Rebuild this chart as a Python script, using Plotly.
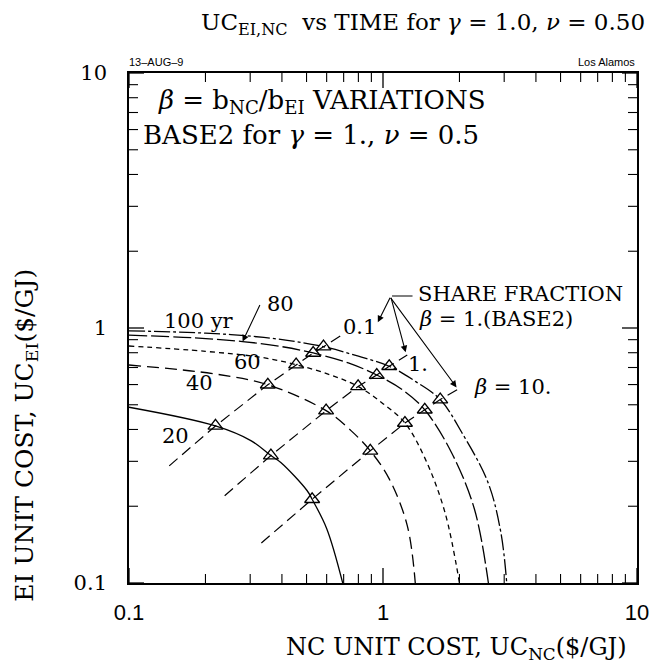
import math
import plotly.graph_objects as go

# ---- time contours: EI unit cost vs NC unit cost ($/GJ) ----
t20_nc = [0.1, 0.219, 0.303, 0.362, 0.396, 0.503, 0.526, 0.601, 0.694]
t20_ei = [0.489, 0.413, 0.361, 0.316, 0.297, 0.230, 0.213, 0.163, 0.1]

t40_nc = [0.1, 0.219, 0.352, 0.597, 0.75, 0.891, 1.058, 1.246, 1.34]
t40_ei = [0.716, 0.66, 0.599, 0.474, 0.395, 0.330, 0.256, 0.168, 0.1]

t60_nc = [0.1, 0.2, 0.332, 0.455, 0.62, 0.798, 1.0, 1.22, 1.468, 1.754, 2.0]
t60_ei = [0.85, 0.81, 0.767, 0.718, 0.655, 0.59, 0.505, 0.424, 0.306, 0.189, 0.1]

t80_nc = [0.1, 0.18, 0.28, 0.4, 0.531, 0.73, 0.945, 1.2, 1.46, 1.86, 2.29, 2.6]
t80_ei = [0.937, 0.915, 0.885, 0.845, 0.798, 0.73, 0.654, 0.57, 0.478, 0.325, 0.195, 0.1]

t100_nc = [0.1, 0.2, 0.286, 0.42, 0.583, 0.8, 1.058, 1.35, 1.68, 2.04, 2.59, 2.91, 3.07]
t100_ei = [0.975, 0.955, 0.933, 0.895, 0.845, 0.775, 0.708, 0.615, 0.524, 0.39, 0.248, 0.158, 0.1]

# ---- share-fraction lines (beta = 0.1, 1, 10); inner points are the 20..100 yr crossings ----
b01_nc = [0.144, 0.219, 0.352, 0.455, 0.531, 0.583, 0.698]
b01_ei = [0.288, 0.413, 0.599, 0.718, 0.798, 0.845, 0.947]

b1_nc = [0.238, 0.362, 0.597, 0.798, 0.945, 1.058, 1.246]
b1_ei = [0.220, 0.316, 0.474, 0.59, 0.654, 0.708, 0.784]

b10_nc = [0.332, 0.526, 0.891, 1.22, 1.46, 1.68, 1.98]
b10_ei = [0.1435, 0.213, 0.330, 0.424, 0.478, 0.524, 0.576]

x_ticks = [0.1, 1, 10]
x_ticktext = ["0.1", "1", "10"]
y_ticks = [0.1, 1, 10]
y_ticktext = ["0.1", "1", "10"]

SERIF = "DejaVu Serif, serif"
SANS = "Liberation Sans, Arial, sans-serif"
INK = "black"

W, H = 661, 670
L, R, T, B = 129, 16, 73, 87
LOG_MIN, LOG_MAX = -1, 1


def paper_x(px):
    return (px - L) / (W - L - R)


def paper_y(py):
    return (H - B - py) / (H - T - B)


fig = go.Figure()

curves = [
    (t20_nc, t20_ei, "solid"),
    (t40_nc, t40_ei, "12px,6px"),
    (t60_nc, t60_ei, "5px,4px"),
    (t80_nc, t80_ei, "18px,4px"),
    (t100_nc, t100_ei, "16px,3px,3px,3px"),
]
for xs, ys, dash in curves:
    fig.add_trace(go.Scatter(
        x=xs, y=ys, mode="lines", line_shape="spline",
        line=dict(color=INK, width=1.3, dash=dash),
        hoverinfo="skip", showlegend=False))

for xs, ys in [(b01_nc, b01_ei), (b1_nc, b1_ei), (b10_nc, b10_ei)]:
    fig.add_trace(go.Scatter(
        x=xs, y=ys, mode="lines",
        line=dict(color=INK, width=1.2, dash="11px,6px"),
        hoverinfo="skip", showlegend=False))
    fig.add_trace(go.Scatter(
        x=xs[1:-1], y=ys[1:-1], mode="markers",
        marker=dict(symbol="triangle-up-open", size=13, color=INK,
                    line=dict(width=1.3, color=INK)),
        hoverinfo="skip", showlegend=False))

axis_common = dict(
    type="log", range=[LOG_MIN, LOG_MAX], showline=True, linecolor=INK,
    linewidth=1.6, mirror=True, ticks="", showgrid=False, zeroline=False,
)
fig.update_xaxes(**axis_common, tickmode="array", tickvals=x_ticks,
                 ticktext=x_ticktext, ticklabelstandoff=9,
                 tickfont=dict(family=SANS, size=22, color=INK))
fig.update_yaxes(**axis_common, tickmode="array", tickvals=y_ticks,
                 ticktext=y_ticktext, ticklabelstandoff=16,
                 tickfont=dict(family=SERIF, size=21, color=INK))

# inside tick marks on all four sides (decades long, 2..9 short)
shapes = []
tick_vals = [m * 10 ** e for e in (-1, 0) for m in range(1, 10)] + [10]
for v in tick_vals:
    p = (math.log10(v) - LOG_MIN) / (LOG_MAX - LOG_MIN)
    major = abs(math.log10(v) - round(math.log10(v))) < 1e-9
    ln = 15 if major else 9
    lw = 1.3 if major else 1.1
    style = dict(type="line", line=dict(color=INK, width=lw), layer="above")
    # bottom / top
    shapes.append(dict(style, xref="paper", yref="paper", ysizemode="pixel",
                       yanchor=0, x0=p, x1=p, y0=0, y1=ln))
    shapes.append(dict(style, xref="paper", yref="paper", ysizemode="pixel",
                       yanchor=1, x0=p, x1=p, y0=0, y1=-ln))
    # left / right
    shapes.append(dict(style, xref="paper", yref="paper", xsizemode="pixel",
                       xanchor=0, y0=p, y1=p, x0=0, x1=ln))
    shapes.append(dict(style, xref="paper", yref="paper", xsizemode="pixel",
                       xanchor=1, y0=p, y1=p, x0=0, x1=-ln))

ann = []


def text(px, py, s, size=24, family=SERIF, xanchor="left", angle=0):
    ann.append(dict(xref="paper", yref="paper", x=paper_x(px), y=paper_y(py),
                    text=s, showarrow=False, xanchor=xanchor, yanchor="middle",
                    textangle=angle, font=dict(family=family, size=size, color=INK)))


def arrow(x, y, ax, ay, head=2):
    ann.append(dict(xref="x", yref="y", x=math.log10(x), y=math.log10(y),
                    ax=ax, ay=ay, text="", showarrow=True, arrowhead=head,
                    arrowsize=1.2, arrowwidth=1.1, arrowcolor=INK))


def label(x, y, s, size=21, xanchor="center"):
    ann.append(dict(xref="x", yref="y", x=math.log10(x), y=math.log10(y),
                    text=s, showarrow=False, xanchor=xanchor, yanchor="middle",
                    font=dict(family=SERIF, size=size, color=INK)))


# titles
text(655, 24, "UC<sub>EI,NC</sub>  vs TIME for <i>γ</i> = 1.0, <i>ν</i> = 0.50",
     size=23, xanchor="right")
text(462, 648, "NC UNIT COST, UC<sub>NC</sub>($/GJ)", size=24, xanchor="center")
text(24, 435, "EI UNIT COST, UC<sub>EI</sub>($/GJ)", size=25, xanchor="center", angle=-90)
text(127, 62, "13\u2013AUG\u20139", size=11, family=SANS)
ann.append(dict(xref="paper", yref="paper", x=1.0, y=paper_y(62), text="Los Alamos",
                showarrow=False, xanchor="right", yanchor="middle",
                font=dict(family=SANS, size=11, color=INK)))

# inner heading
text(156, 101, "<i>β</i> = b<sub>NC</sub>/b<sub>EI</sub> VARIATIONS", size=26)
text(141, 135, "BASE2 for <i>γ</i> = 1., <i>ν</i> = 0.5", size=26)

# curve labels
label(0.188, 1.065, "100 yr")
label(0.395, 1.242, "80")
label(0.292, 0.736, "60")
label(0.190, 0.608, "40")
label(0.152, 0.377, "20")
label(0.807, 1.01, "0.1")
label(1.379, 0.723, "1.", xanchor="center")
label(2.25, 0.587, "<i>β</i> = 10.", xanchor="left")
label(1.343, 1.36, "SHARE FRACTION", xanchor="left")
label(1.367, 1.085, "<i>β</i> = 1.(BASE2)", xanchor="left")

# pointer arrows
arrow(0.28, 0.885, 18, -38)
arrow(1.307, 1.335, -22, 0, head=0)
arrow(0.954, 1.053, 13, -26)
arrow(1.228, 0.803, -15, -56)
arrow(1.948, 0.585, -67, -91)

fig.update_layout(
    width=W, height=H, margin=dict(l=L, r=R, t=T, b=B),
    paper_bgcolor="white", plot_bgcolor="white",
    annotations=ann, shapes=shapes, showlegend=False,
)

fig.write_html("out.html")
